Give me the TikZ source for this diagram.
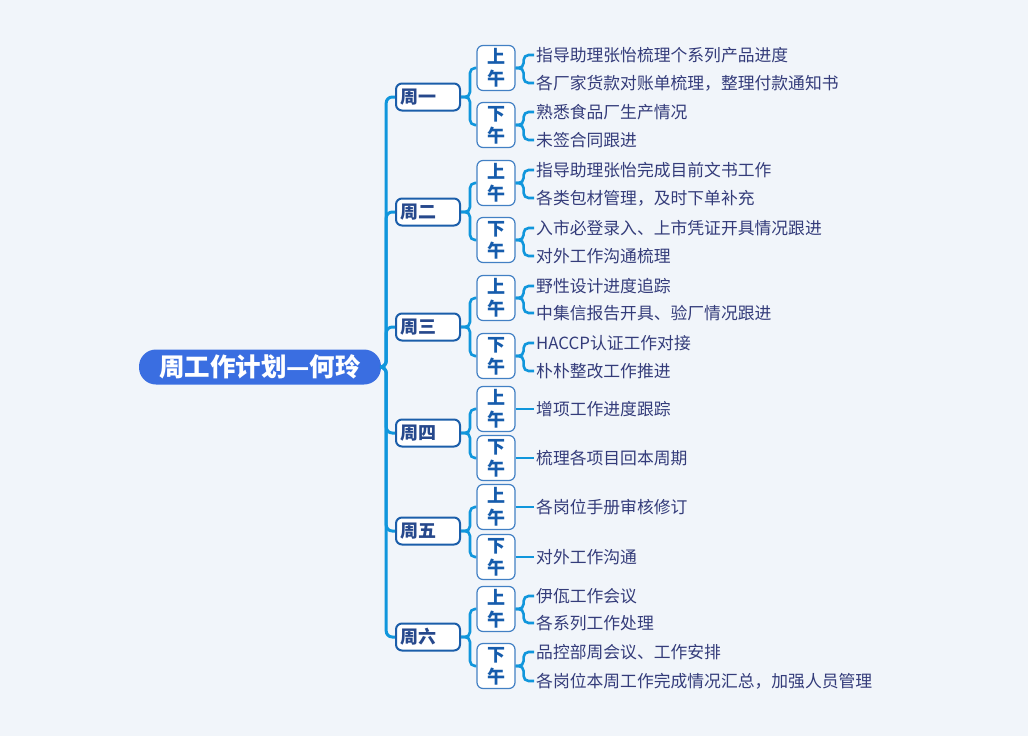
\documentclass[tikz,border=0pt]{standalone}
\usepackage{fontspec}
\setmainfont{Noto Sans CJK SC}
\usepackage{tikz}
\usetikzlibrary{positioning}
\usetikzlibrary{calc}

\definecolor{fundo}{RGB}{241,245,250}
\definecolor{ramo}{RGB}{16,150,220}
\definecolor{raizcor}{RGB}{58,110,225}
\definecolor{diaborda}{RGB}{27,94,170}
\definecolor{diatexto}{RGB}{38,72,140}
\definecolor{meioborda}{RGB}{66,128,196}
\definecolor{meiotexto}{RGB}{22,92,172}
\definecolor{tarefatexto}{RGB}{52,60,122}

\begin{document}
\begin{tikzpicture}[x=1pt, y=-1pt,
    raiz/.style={fill=raizcor, rounded corners=17pt, minimum width=242pt, minimum height=35pt, text=white, font=\fontsize{25.5}{28}\selectfont\bfseries},
    diabox/.style={draw=diaborda, line width=2pt, fill=white, rounded corners=6pt, text width=56pt, align=left, inner xsep=4pt, minimum height=27pt, inner ysep=0pt, text=diatexto, font=\fontsize{18}{22}\selectfont\bfseries},
    meiobox/.style={draw=meioborda, line width=1.2pt, fill=white, rounded corners=6pt, minimum width=38pt, minimum height=45pt, inner sep=0pt, align=center, text=meiotexto, font=\fontsize{18}{22}\selectfont\bfseries},
    tarefa/.style={anchor=west, inner xsep=2pt, text=tarefatexto, font=\fontsize{16.8}{20}\selectfont},
    tronco/.style={draw=ramo, line width=3pt, rounded corners=6pt},
    ligacao/.style={draw=ramo, line width=2.6pt, rounded corners=5pt}]
        % Fundo
        \fill[fundo] (0,0) rectangle (1028,736);
        \useasboundingbox (0,0) rectangle (1028,736);

        % Raiz
        \node[raiz] (raiz) at (260,367) {周工作计划—何玲};

        % Dias da semana
        \foreach \nome/\y/\label in {d1/97/周一, d2/212/周二, d3/327/周三, d4/433/周四, d5/531/周五, d6/637/周六}
        {
        \node[diabox] (\nome) at (428,\y) {\label};
        \draw[tronco] (raiz.east) -- ++(5,0) |- (\nome.west);
        }

        % Manha e tarde
        \foreach \dn/\ya/\yb in {d1/68/125, d2/183/240, d3/298/356, d4/409/458, d5/507/557, d6/609/666}
        {
        \node[meiobox] (\dn-a) at (496,\ya) {上\\午};
        \node[meiobox] (\dn-b) at (496,\yb) {下\\午};
        \draw[ligacao] (\dn.east) -- ++(9,0) |- (\dn-a.west);
        \draw[ligacao] (\dn.east) -- ++(9,0) |- (\dn-b.west);
        }

        % Tarefas (duas por meio dia)
        \foreach \meio/\y/\label in {
            d1-a/55/指导助理张怡梳理个系列产品进度, d1-a/83/各厂家货款对账单梳理，整理付款通知书,
            d1-b/112/熟悉食品厂生产情况, d1-b/140/未签合同跟进,
            d2-a/170/指导助理张怡完成目前文书工作, d2-a/198/各类包材管理，及时下单补充,
            d2-b/228/入市必登录入、上市凭证开具情况跟进, d2-b/256/对外工作沟通梳理,
            d3-a/286/野性设计进度追踪, d3-a/313/中集信报告开具、验厂情况跟进,
            d3-b/343/HACCP认证工作对接, d3-b/371/朴朴整改工作推进,
            d6-a/596/伊佤工作会议, d6-a/623/各系列工作处理,
            d6-b/652/品控部周会议、工作安排, d6-b/681/各岗位本周工作完成情况汇总，加强人员管理}
        {
        \node[tarefa] (t\meio\y) at (534,\y) {\label};
        \draw[ligacao] (\meio.east) -- ++(8,0) |- (t\meio\y.west);
        }

        % Tarefas (uma so)
        \foreach \meio/\y/\label in {d4-a/409/增项工作进度跟踪, d4-b/458/梳理各项目回本周期,
            d5-a/507/各岗位手册审核修订, d5-b/557/对外工作沟通}
        {
        \node[tarefa] (t\meio\y) at (534,\y) {\label};
        \draw[ligacao] (\meio.east) -- (t\meio\y.west);
        }
\end{tikzpicture}
\end{document}
